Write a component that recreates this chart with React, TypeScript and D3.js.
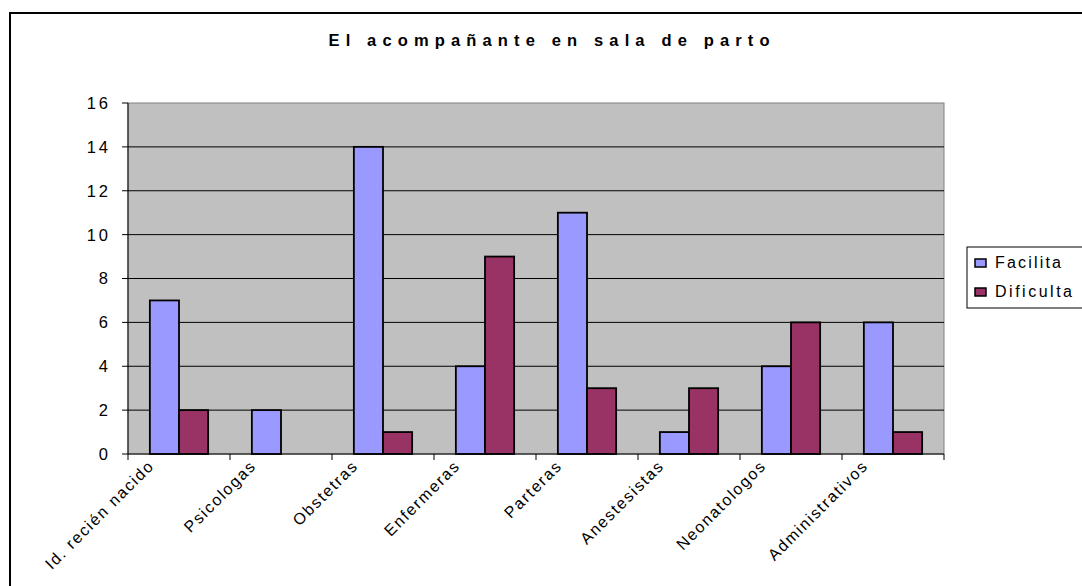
import React from "react";
import * as d3 from "d3";

const categories = ["Id. recién nacido", "Psicologas", "Obstetras", "Enfermeras", "Parteras", "Anestesistas", "Neonatologos", "Administrativos"];
const seriesNames = ["Facilita", "Dificulta"];
const facilita = [7, 2, 14, 4, 11, 1, 4, 6];
const dificulta = [2, 0, 1, 9, 3, 3, 6, 1];
const yTicks = [0, 2, 4, 6, 8, 10, 12, 14, 16];
const colors = ["#9999FF", "#993366"];

const W = 1082, H = 586;
const plot = { left: 128, right: 944, top: 103, bottom: 454 };
const font = "'Liberation Sans', Arial, sans-serif";

export default function App() {
  const x = d3.scaleBand().domain(categories).range([plot.left, plot.right]).paddingInner(0).paddingOuter(0);
  const bw = x.bandwidth() / 3.5;
  const inner = d3.scaleBand().domain(seriesNames).range([bw * 0.75, bw * 2.75]);
  const y = d3.scaleLinear().domain([0, 16]).range([plot.bottom, plot.top]);
  const series = [facilita, dificulta];
  const legendLens = [66, 77];
  return (
    <svg width={W} height={H} style={{ position: "absolute", left: 0, top: 0, background: "#fff" }} fontFamily={font}>
      <rect x={10} y={13} width={W} height={H} fill="#fff" stroke="#000" strokeWidth={2} />
      <text x={549} y={46} textAnchor="middle" fontSize={16.5} fontWeight="bold" textLength={441} lengthAdjust="spacing">El acompañante en sala de parto</text>
      <rect x={plot.left} y={plot.top} width={plot.right - plot.left} height={plot.bottom - plot.top} fill="#C0C0C0" stroke="#808080" strokeWidth={1} />
      {yTicks.filter(t => t > 0 && t < 16).map(t => (
        <line key={t} x1={plot.left} x2={plot.right} y1={y(t)} y2={y(t)} stroke="#000" strokeWidth={1} />
      ))}
      {series.map((vals, si) => categories.map((c, i) => (
        vals[i] > 0 ? (
          <rect key={si + "-" + i} x={(x(c) as number) + (inner(seriesNames[si]) as number)} y={y(vals[i])} width={inner.bandwidth()} height={y(0) - y(vals[i])} fill={colors[si]} stroke="#000" strokeWidth={1.8} />
        ) : null
      )))}
      <line x1={plot.left} x2={plot.left} y1={plot.top} y2={plot.bottom} stroke="#000" strokeWidth={1} />
      <line x1={plot.left} x2={plot.right} y1={plot.bottom} y2={plot.bottom} stroke="#000" strokeWidth={1} />
      {yTicks.map(t => (
        <g key={t}>
          <line x1={plot.left - 6} x2={plot.left} y1={y(t)} y2={y(t)} stroke="#000" />
          <text x={111} y={y(t)} dy="0.36em" textAnchor="end" fontSize={16.5} letterSpacing={3}>{t}</text>
        </g>
      ))}
      {categories.concat(["end"]).map((c, i) => {
        const xx = plot.left + i * x.bandwidth();
        return <line key={"xt" + i} x1={xx} x2={xx} y1={plot.bottom} y2={plot.bottom + 6} stroke="#000" />;
      })}
      {categories.map(c => {
        const cx = (x(c) as number) + x.bandwidth() / 2 - 25;
        return (
          <text key={"xl" + c} transform={`translate(${cx},${468}) rotate(-45)`} textAnchor="end" dx={1.7} fontSize={16} letterSpacing={1.7}>{c}</text>
        );
      })}
      <rect x={967} y={247} width={130} height={61} fill="#fff" stroke="#000" strokeWidth={1} />
      {seriesNames.map((s, i) => (
        <g key={s}>
          <rect x={975} y={259 + i * 29} width={11} height={8} fill={colors[i]} stroke="#000" strokeWidth={1.5} />
          <text x={995} y={268 + i * 29} fontSize={16} textLength={legendLens[i]} lengthAdjust="spacing">{s}</text>
        </g>
      ))}
    </svg>
  );
}
